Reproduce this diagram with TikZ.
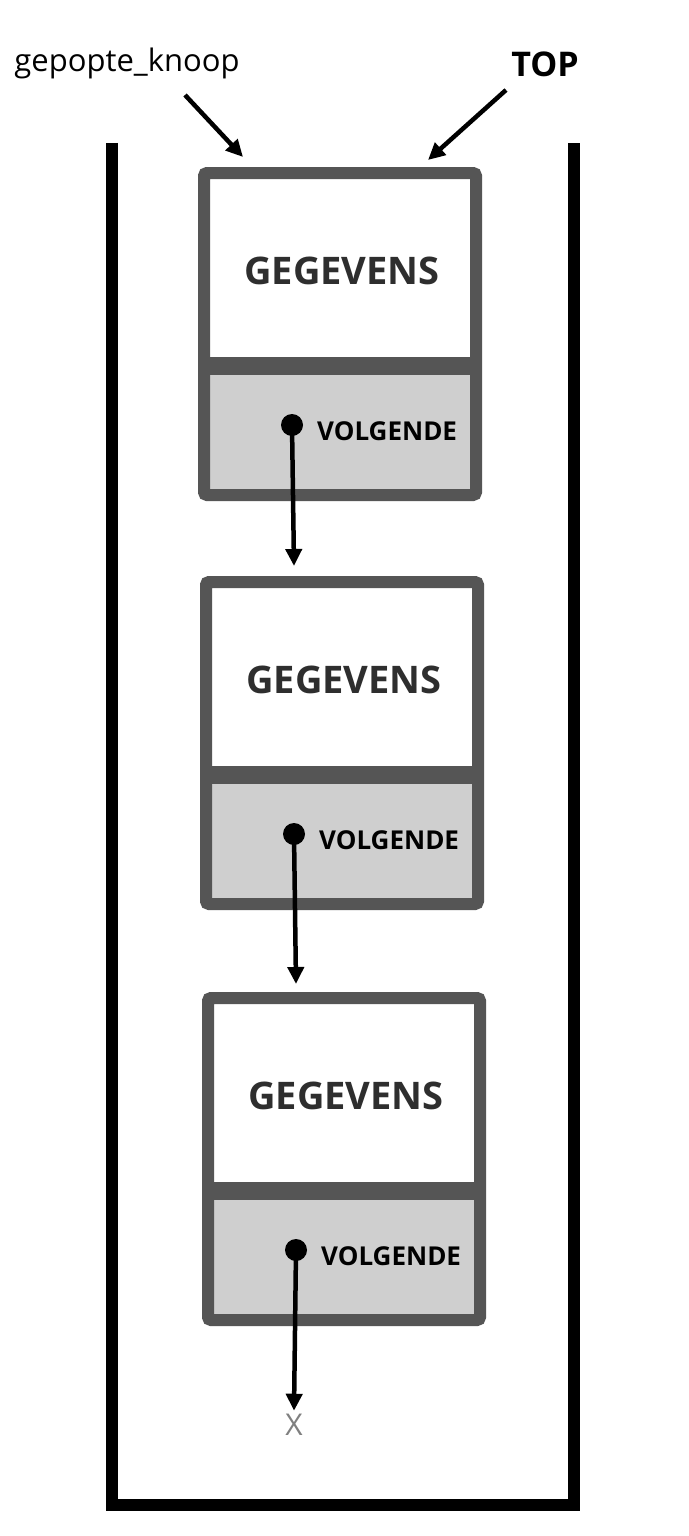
\documentclass[tikz,border=0pt]{standalone}
\usepackage{fontspec}
\setmainfont{Open Sans}
\usetikzlibrary{arrows.meta}
\definecolor{frame}{HTML}{555555}
\definecolor{fillg}{HTML}{CFCFCF}
\definecolor{txt}{HTML}{2E2E2E}
\begin{document}
\begin{tikzpicture}[x=1pt,y=-1pt,
  arr/.style={line width=4.5pt,-{Triangle[length=17pt,width=16pt]}},
  gg/.style={font=\bfseries\fontsize{38}{40}\selectfont,text=txt},
  vv/.style={font=\bfseries\fontsize{26}{28}\selectfont,text=black,anchor=west,inner sep=0pt},
  dot/.style={circle,fill=black,minimum size=22pt,inner sep=0pt}]
\fill[white] (0,0) rectangle (688,1536);
\useasboundingbox (0,0) rectangle (688,1536);
% container
\draw[line width=12pt,line join=miter] (112,143) -- (112,1505) -- (574,1505) -- (574,143);
% nodes
\foreach \i/\x/\y in {1/198/167, 2/200/576, 3/202/992}{
  \fill[fillg] (\x+10,\y+200) rectangle (\x+274,\y+324);
  \fill[frame] (\x+10,\y+190) rectangle (\x+274,\y+208);
  \draw[frame,line width=12pt,rounded corners=3pt] (\x+6,\y+6) rectangle (\x+278,\y+328);
  \node[gg] (g\i) at (\x+144,\y+104) {GEGEVENS};
  \node[dot] (d\i) at (\x+94,\y+258) {};
  \node[vv] (v\i) at (\x+119,\y+264) {VOLGENDE};
}
\node (x) at (294,1425) [text=gray,font=\fontsize{30}{32}\selectfont] {X};
\coordinate (t2) at (294,566);
\coordinate (t3) at (296,984);
\draw[arr] (d1.center) -- (t2);
\draw[arr] (d2.center) -- (t3);
\draw[arr] (d3.center) -- (x.north);
% labels
\node (gk) at (127,63) [font=\fontsize{31}{33}\selectfont] {gepopte\_knoop};
\node (top) at (545,64) [font=\bfseries\fontsize{34}{36}\selectfont] {TOP};
\coordinate (gka) at (243,157);
\coordinate (topa) at (428,160);
\draw[arr] (185,95) -- (gka);
\draw[arr] (506,90) -- (topa);
\end{tikzpicture}
\end{document}
